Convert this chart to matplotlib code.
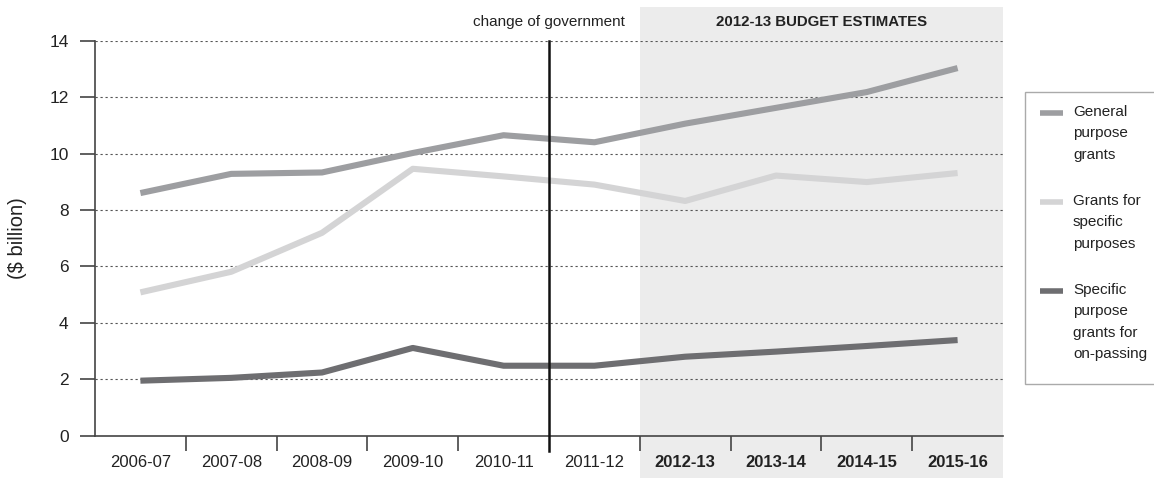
import matplotlib
matplotlib.use("Agg")
import matplotlib.pyplot as plt
from matplotlib.patches import Rectangle
from matplotlib.lines import Line2D
import matplotlib.transforms as mtransforms

years = ["2006-07", "2007-08", "2008-09", "2009-10", "2010-11", "2011-12",
         "2012-13", "2013-14", "2014-15", "2015-16"]
general_purpose = [8.60, 9.28, 9.33, 10.02, 10.65, 10.40, 11.06, 11.62, 12.18, 13.03]
specific_purposes = [5.08, 5.81, 7.19, 9.46, 9.19, 8.90, 8.32, 9.22, 8.99, 9.31]
on_passing = [1.95, 2.05, 2.24, 3.11, 2.48, 2.48, 2.80, 2.98, 3.18, 3.39]
series_labels = ["General\npurpose\ngrants", "Grants for\nspecific\npurposes",
                 "Specific\npurpose\ngrants for\non-passing"]
series_colors = ["#9d9ea1", "#d4d4d5", "#6e6e71"]
estimate_start = 6  # index of first budget-estimate year
change_idx = 5      # change of government before this year

W, H = 1154, 479
fig = plt.figure(figsize=(W / 100, H / 100), dpi=100)
plt.rcParams['font.family'] = ['Liberation Sans', 'DejaVu Sans']
ax = fig.add_axes([95 / W, 1 - 435.7 / H, (1003 - 95) / W, (435.7 - 40.7) / H])

x = list(range(len(years)))
ax.set_xlim(-0.5, len(years) - 0.5)
ax.set_ylim(0, 14)

# shaded estimate region (extends above and below axes)
trans = mtransforms.blended_transform_factory(ax.transData, fig.transFigure)
ax.add_patch(Rectangle((estimate_start - 0.5, 1 / H), len(years) - estimate_start,
                       1 - 8 / H, transform=trans, facecolor="#ececec",
                       edgecolor="none", clip_on=False, zorder=0))

# gridlines
for yv in range(2, 15, 2):
    ax.axhline(yv, color="#555555", linestyle=(0, (2, 2.5)), linewidth=0.8, zorder=1)

# series
for vals, col in zip([general_purpose, specific_purposes, on_passing], series_colors):
    ax.plot(x, vals, color=col, linewidth=4.4, solid_capstyle="butt", zorder=3)

# change of government line
ax.plot([change_idx - 0.5, change_idx - 0.5], [14, -15 / 28.25], color="#111111",
        linewidth=1.8, clip_on=False, zorder=4)

# spines
for s in ["top", "right"]:
    ax.spines[s].set_visible(False)
ax.spines["left"].set_color("#444444")
ax.spines["bottom"].set_color("#444444")
ax.spines["left"].set_linewidth(1.2)
ax.spines["bottom"].set_linewidth(1.2)

ax.set_yticks(range(0, 15, 2))
ax.tick_params(axis="y", direction="out", length=11, width=1.2, color="#444444",
               labelsize=12.5, pad=8, labelcolor="#222222")
ax.set_xticks(x)
ax.set_xticklabels(years)
ax.tick_params(axis="x", which="major", length=0, pad=14, labelsize=12,
               labelcolor="#222222")
for i, lab in enumerate(ax.get_xticklabels()):
    if i >= estimate_start:
        lab.set_fontweight("bold")
ax.set_xticks([i + 0.5 for i in range(len(years) - 1) if i + 0.5 != change_idx - 0.5],
              minor=True)
ax.tick_params(axis="x", which="minor", direction="out", length=11, width=1.2,
               color="#444444")

ax.set_ylabel("($ billion)", fontsize=14.5, color="#222222", labelpad=16)

# annotations
ax.text(change_idx - 0.5, 1 - 22 / H, "change of government", transform=trans,
        ha="center", va="center", fontsize=11, color="#222222")
ax.text((estimate_start - 0.5 + len(years) - 0.5) / 2, 1 - 22 / H,
        "2012-13 BUDGET ESTIMATES", transform=trans, ha="center", va="center",
        fontsize=10.8, fontweight="bold", color="#222222")

# legend (manual)
fig.add_artist(Rectangle((1025 / W, 1 - 384 / H), (1160 - 1025) / W, (384 - 92) / H,
                         transform=fig.transFigure, facecolor="white",
                         edgecolor="#aaaaaa", linewidth=1.0))
leg_y = [113, 202, 291]
for yy, lab, col in zip(leg_y, series_labels, series_colors):
    fig.add_artist(Line2D([1040 / W, 1063 / W], [1 - yy / H, 1 - yy / H],
                          transform=fig.transFigure, color=col, linewidth=4,
                          solid_capstyle="butt"))
    fig.text(1073 / W, 1 - (yy - 8) / H, lab, ha="left", va="top", fontsize=11,
             color="#222222", linespacing=1.68)

fig.savefig("out.png", dpi=100)
